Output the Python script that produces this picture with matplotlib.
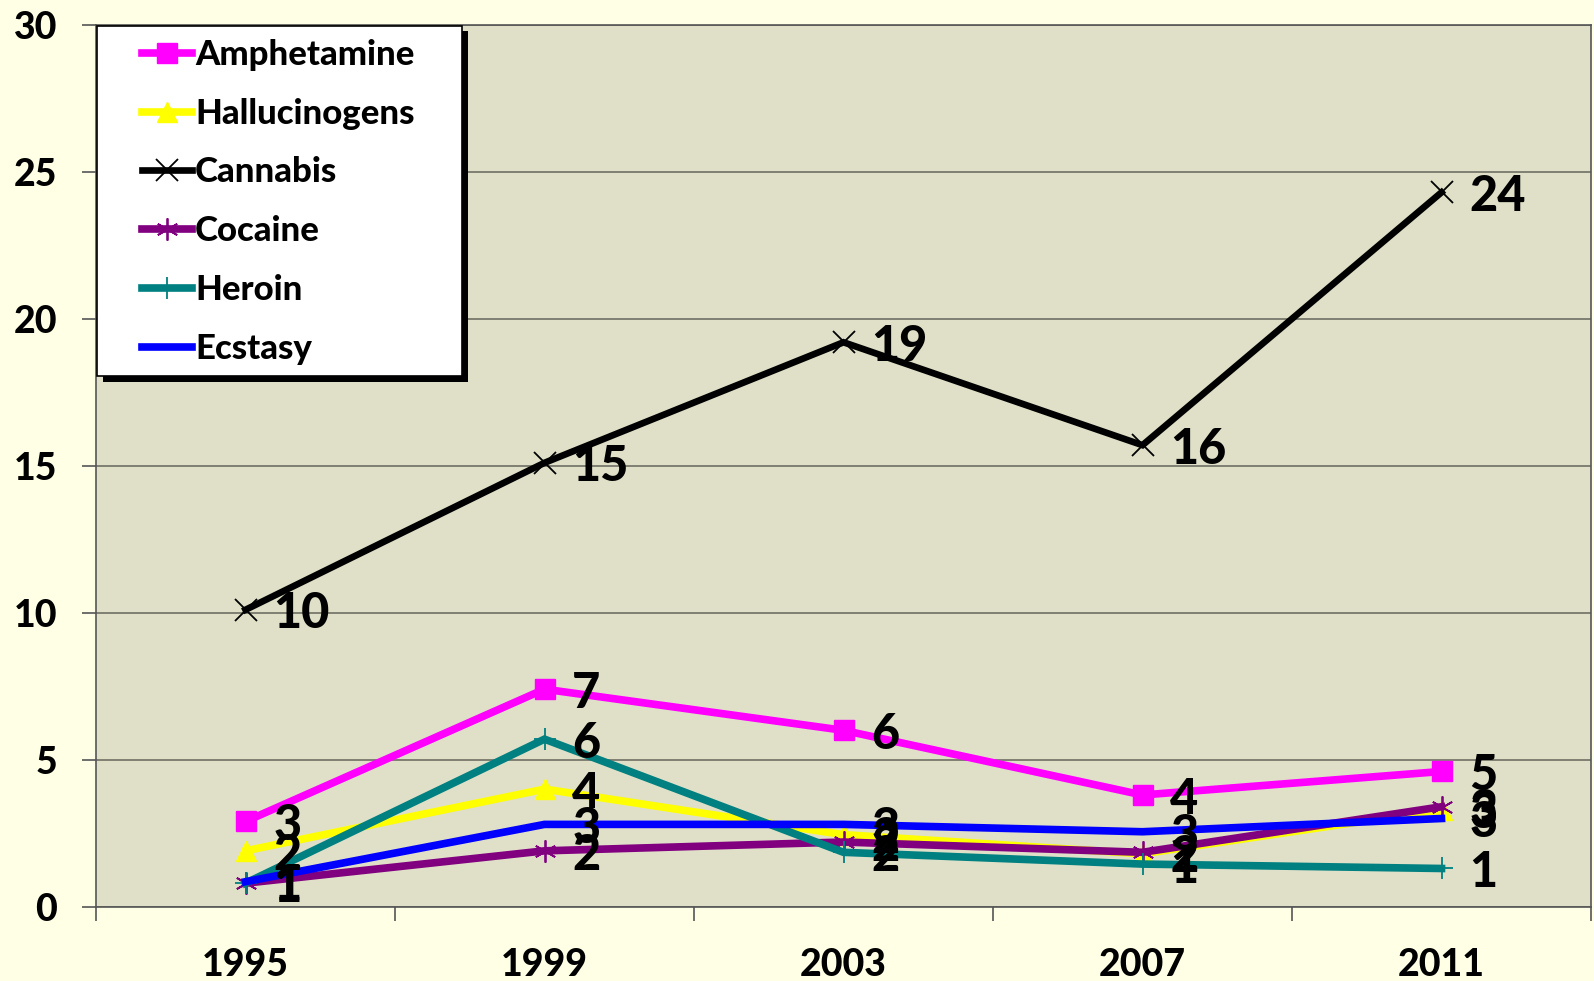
import matplotlib
matplotlib.use("Agg")
import matplotlib.pyplot as plt
from matplotlib.patches import Rectangle
import numpy as np

years = ["1995", "1999", "2003", "2007", "2011"]
series_names = ["Amphetamine", "Hallucinogens", "Cannabis", "Cocaine", "Heroin", "Ecstasy"]
amphetamine = [2.9, 7.4, 6.0, 3.8, 4.6]
hallucinogens = [1.9, 4.0, 2.45, 1.8, 3.3]
cannabis = [10.1, 15.1, 19.2, 15.7, 24.3]
cocaine = [0.8, 1.9, 2.2, 1.85, 3.4]
heroin = [0.8, 5.7, 1.85, 1.45, 1.3]
ecstasy = [0.85, 2.8, 2.8, 2.55, 3.0]
y_ticks = [0, 5, 10, 15, 20, 25, 30]

values = [amphetamine, hallucinogens, cannabis, cocaine, heroin, ecstasy]
colors = ["#FF00FF", "#FFFF00", "#000000", "#800080", "#008080", "#0000FF"]
markers = ["s", "^", "x", (6, 2, 0), "+", None]
msizes = [15, 15, 16, 16, 16, 0]
mews = [1, 1, 1.3, 1.3, 1.3, 1]

FONT = "Lato"
W = 900
plt.rcParams["font.family"] = [FONT, "DejaVu Sans"]
plt.rcParams["font.weight"] = "bold"

FW, FH = 1594, 981
fig = plt.figure(figsize=(FW / 100, FH / 100), dpi=100, facecolor="#FFFFE6")
ax = fig.add_axes([96 / FW, 1 - 906.7 / FH, (1591 - 96) / FW, (906.7 - 24.8) / FH])
ax.set_facecolor("#E0E0C8")

x = np.arange(len(years))
handles = []
for name, vals, c, m, ms, mew in zip(series_names, values, colors, markers, msizes, mews):
    lw = 5.5 if name != "Cannabis" else 4.8
    h, = ax.plot(x, vals, color=c, lw=lw, marker=m, markersize=ms,
                 markeredgewidth=mew if m not in ("s", "^") else 1,
                 markeredgecolor=c, markerfacecolor=c, label=name,
                 solid_joinstyle="miter", zorder=3)
    handles.append(h)

for vals in values:
    for xi, v in zip(x, vals):
        ax.annotate(f"{v:.0f}", (xi, v), xytext=(20, -3), textcoords="offset points",
                    ha="left", va="center", fontsize=35, fontweight=W,
                    color="black", zorder=5)

ax.set_xlim(-0.5, len(years) - 0.5)
ax.set_ylim(0, 30)
ax.set_yticks(y_ticks)
ax.set_yticklabels([str(t) for t in y_ticks])
ax.yaxis.grid(True, color="#6e6e64", lw=1.2, zorder=0)
ax.set_axisbelow(True)

ax.set_xticks(np.arange(len(years) + 1) - 0.5)
ax.set_xticklabels([])
ax.set_xticks(x, minor=True)
ax.set_xticklabels(years, minor=True)
ax.tick_params(axis="x", which="major", length=10, width=1.2, color="#555555", direction="out")
ax.tick_params(axis="x", which="minor", length=0, pad=30, labelsize=27)
ax.tick_params(axis="y", length=10, width=1.2, color="#555555", direction="out", pad=18, labelsize=27)
for lab in ax.get_xticklabels(minor=True) + ax.get_yticklabels():
    lab.set_fontweight(W)

for s in ax.spines.values():
    s.set_color("#555555")
    s.set_linewidth(1.2)

# legend frame with shadow (pixel coords -> figure fraction)
lx0, ly0, lx1, ly1 = 96.5, 25.5, 462, 376
sh = 6
fig.patches.append(Rectangle(((lx0 + sh) / FW, 1 - (ly1 + sh) / FH), (lx1 - lx0) / FW, (ly1 - ly0) / FH,
                             transform=fig.transFigure, facecolor="black", edgecolor="none", zorder=8))
fig.patches.append(Rectangle((lx0 / FW, 1 - ly1 / FH), (lx1 - lx0) / FW, (ly1 - ly0) / FH,
                             transform=fig.transFigure, facecolor="white", edgecolor="black",
                             lw=1.2, zorder=9))

leg = fig.legend(handles=handles, loc="upper left",
                 bbox_to_anchor=(142 / FW, 1 - 39 / FH), bbox_transform=fig.transFigure,
                 prop={"family": [FONT, "DejaVu Sans"], "weight": W, "size": 25},
                 frameon=False, borderaxespad=0, borderpad=0, handlelength=1.43,
                 handletextpad=0.1, labelspacing=0.77)
leg.set_zorder(10)

fig.savefig("out.png", dpi=100, facecolor=fig.get_facecolor())
